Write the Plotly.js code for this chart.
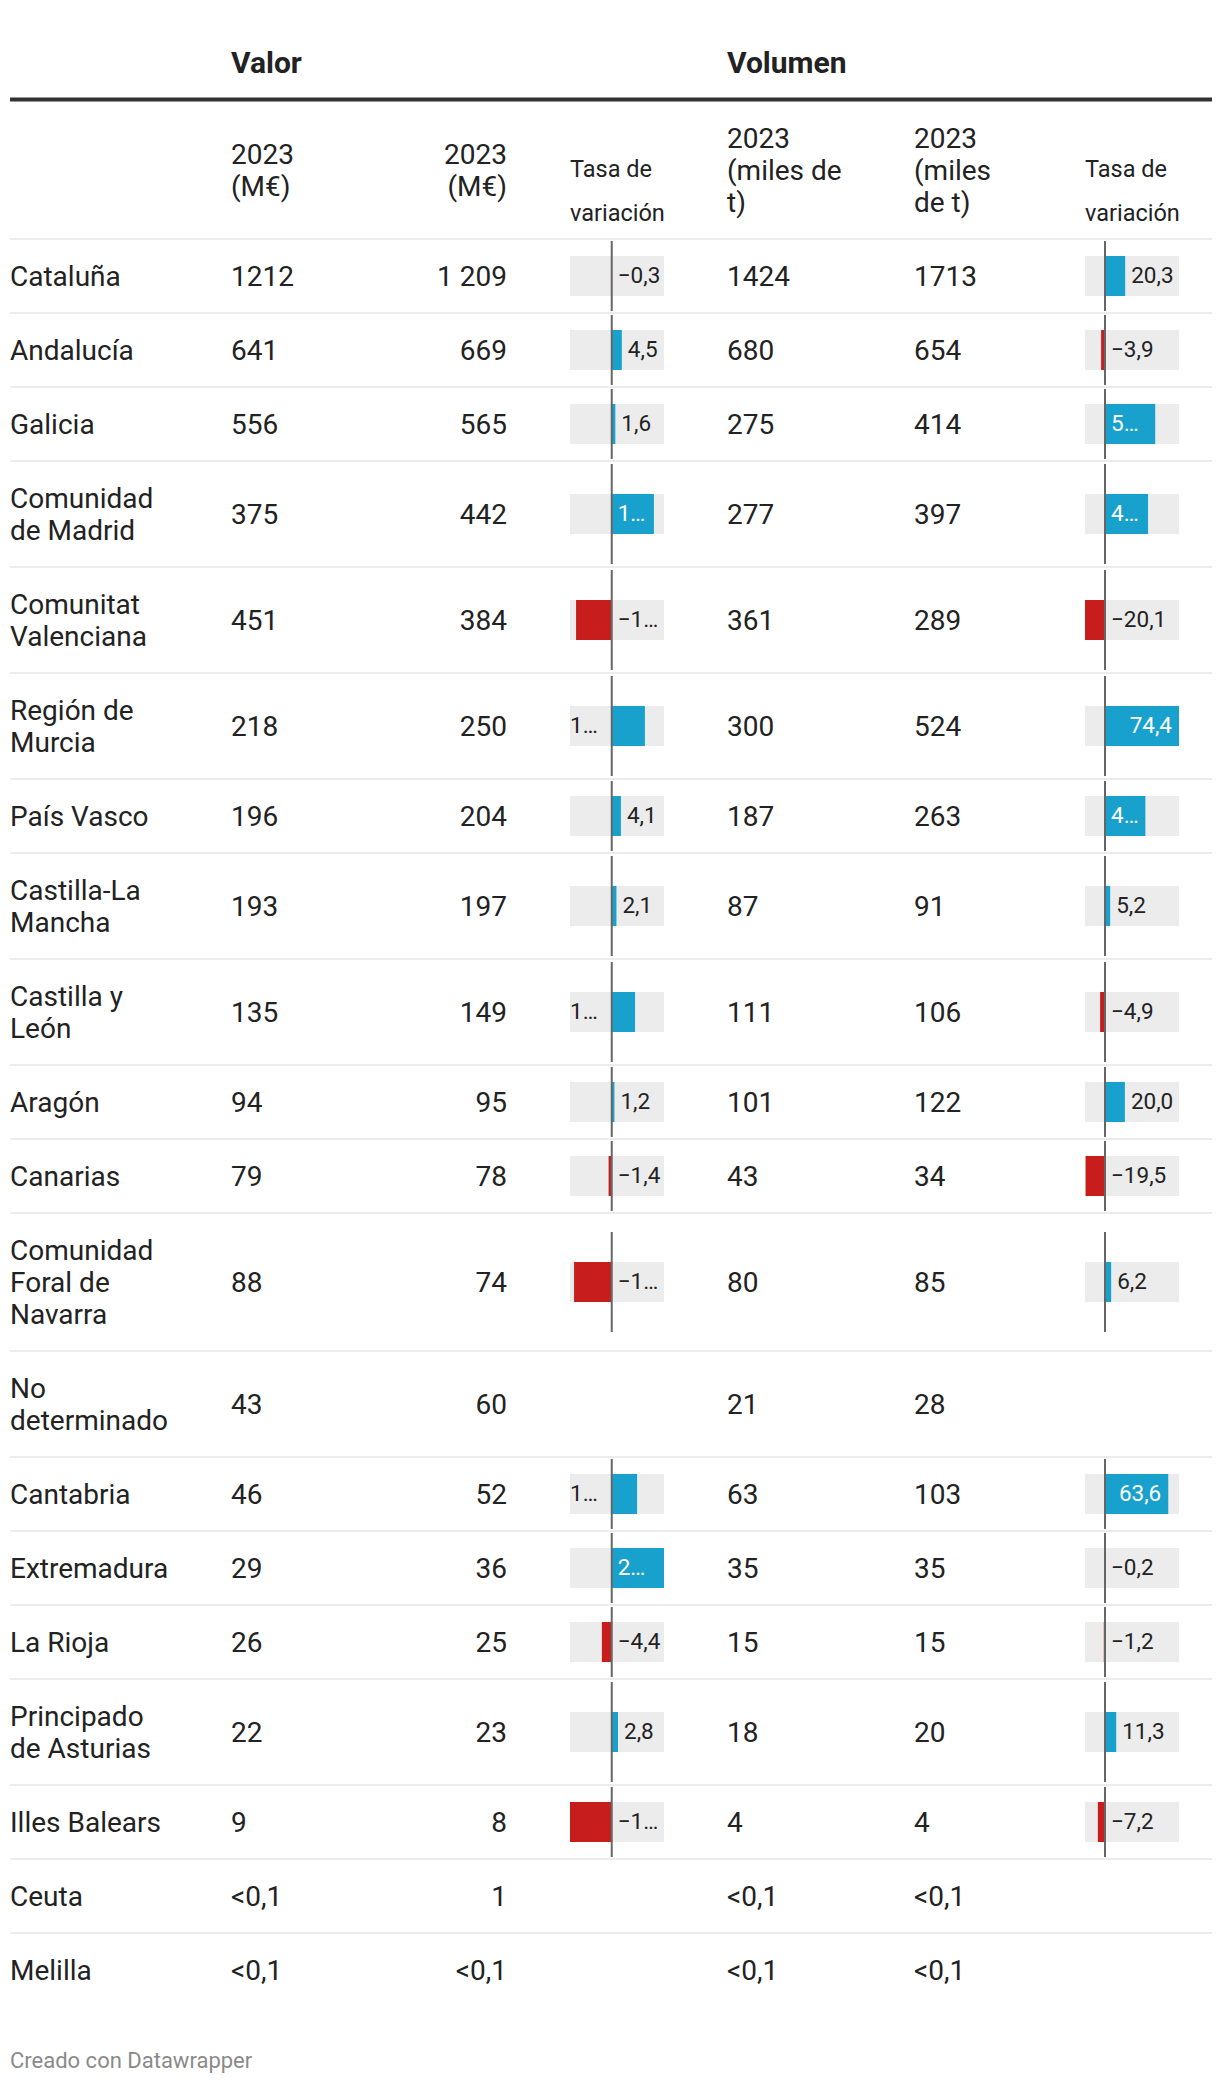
<!DOCTYPE html>
<html>
<head>
<meta charset="utf-8">
<script src="https://cdn.plot.ly/plotly-3.0.1.min.js"></script>
<style>
html,body{margin:0;padding:0;background:#ffffff;}
#chart{width:1220px;height:2082px;}
</style>
</head>
<body>
<div id="chart"></div>
<script>
// ---------------- DATA ----------------
const regions = ["Cataluña","Andalucía","Galicia","Comunidad de Madrid","Comunitat Valenciana","Región de Murcia","País Vasco","Castilla-La Mancha","Castilla y León","Aragón","Canarias","Comunidad Foral de Navarra","No determinado","Cantabria","Extremadura","La Rioja","Principado de Asturias","Illes Balears","Ceuta","Melilla"];
const valor2023a = ["1212","641","556","375","451","218","196","193","135","94","79","88","43","46","29","26","22","9","<0,1","<0,1"];
const valor2023b = ["1 209","669","565","442","384","250","204","197","149","95","78","74","60","52","36","25","23","8","1","<0,1"];
const valorTasa = [-0.3,4.5,1.6,18.8,-15.9,14.8,4.1,2.1,10.4,1.2,-1.4,-16.8,null,11.3,23.3,-4.4,2.8,-18.6,null,null];
const volumen2023a = ["1424","680","275","277","361","300","187","87","111","101","43","80","21","63","35","15","18","4","<0,1","<0,1"];
const volumen2023b = ["1713","654","414","397","289","524","263","91","106","122","34","85","28","103","35","15","20","4","<0,1","<0,1"];
const volumenTasa = [20.3,-3.9,50.5,43.3,-20.1,74.4,40.6,5.2,-4.9,20.0,-19.5,6.2,null,63.6,-0.2,-1.2,11.3,-7.2,null,null];
const groupHeaders = ["Valor","Volumen"];
const colHeaders = ["","2023\n(M€)","2023\n(M€)","Tasa de\nvariación","2023\n(miles de\nt)","2023\n(miles\nde t)","Tasa de\nvariación"];
const footerText = "Creado con Datawrapper";

// ---------------- LAYOUT CONSTANTS ----------------
const W = 1220, H = 2082;
const FONT = "Roboto, sans-serif";
const DARK = "#222222", BLUE = "#18a1cd", RED = "#c71e1d", BG = "#ececec",
      AXISC = "#666666", SEP = "#ececec", RULE = "#333333", FOOT = "#8a8a8a";
const BODY = 28, GROUPSZ = 30, SMALL = 22.5, TASASZ = 23.5, FOOTSZ = 22;
const TABLE_L = 10, TABLE_R = 1212;
const X_LABEL = 10, X_VA = 231, X_VB = 507, X_WA = 727, X_WB = 914;
const VT_PX = [570, 664], WT_PX = [1085, 1179];
const ROW_TOP = 239, ROW_H = 74, LINE_GAP = 32, LABEL_WRAP = 163.8;
const GROUP_Y = 65, RULE_Y = 99.5, HEAD_C = 173, TASA_Y0 = 171.3, TASA_GAP = 44, FOOT_Y = 2062;
const BODY_DY = 2.6, LABEL_DY = 1.8;
const BAR_H = 40, PAD = 6;

// ---------------- HELPERS ----------------
const ctx = document.createElement("canvas").getContext("2d");
function tw(s, size, weight) { ctx.font = (weight || "400") + " " + size + "px Roboto"; return ctx.measureText(s).width; }
function wrapText(s, size, maxW) {
  const words = s.split(" "); const lines = []; let cur = "";
  words.forEach(w => {
    const t = cur ? cur + " " + w : w;
    if (!cur || tw(t, size) <= maxW) cur = t; else { lines.push(cur); cur = w; }
  });
  if (cur) lines.push(cur);
  return lines;
}
function fmt(v) { return (v < 0 ? "\u2212" : "") + Math.abs(v).toFixed(1).replace(".", ","); }
function trunc(s, avail) {
  if (tw(s, SMALL) <= avail) return s;
  const minN = s[0] === "\u2212" ? 2 : 1;
  let n = s.length - 1;
  while (n > minN && tw(s.slice(0, n) + "…", SMALL) > avail) n--;
  return s.slice(0, n) + "…";
}

// rows
const rows = [];
let yc = ROW_TOP;
regions.forEach(r => {
  const lines = wrapText(r, BODY, LABEL_WRAP);
  const h = ROW_H + LINE_GAP * (lines.length - 1);
  rows.push({ top: yc, h: h, c: yc + h / 2, lines: lines });
  yc += h;
});

const traces = [];
const base = { type: "scatter", hoverinfo: "skip", showlegend: false, cliponaxis: false };

// separators
const sx = [], sy = [];
sx.push(TABLE_L, TABLE_R, null); sy.push(ROW_TOP, ROW_TOP, null);
rows.forEach((r, i) => { if (i < rows.length - 1) { sx.push(TABLE_L, TABLE_R, null); sy.push(r.top + r.h, r.top + r.h, null); } });
traces.push(Object.assign({}, base, { mode: "lines", x: sx, y: sy, line: { color: SEP, width: 2 } }));
// thick rule
traces.push(Object.assign({}, base, { mode: "lines", x: [TABLE_L, TABLE_R], y: [RULE_Y, RULE_Y], line: { color: RULE, width: 4 } }));

// body text
const bl = { x: [], y: [], text: [] }, br = { x: [], y: [], text: [] };
rows.forEach((r, i) => {
  const yc2 = r.c + BODY_DY;
  r.lines.forEach((ln, j) => { bl.x.push(X_LABEL); bl.y.push(yc2 + (j - (r.lines.length - 1) / 2) * LINE_GAP); bl.text.push(ln); });
  bl.x.push(X_VA); bl.y.push(yc2); bl.text.push(valor2023a[i]);
  bl.x.push(X_WA); bl.y.push(yc2); bl.text.push(volumen2023a[i]);
  bl.x.push(X_WB); bl.y.push(yc2); bl.text.push(volumen2023b[i]);
  br.x.push(X_VB); br.y.push(yc2); br.text.push(valor2023b[i]);
});
traces.push(Object.assign({}, base, { mode: "text", x: bl.x, y: bl.y, text: bl.text, textposition: "middle right", textfont: { family: FONT, size: BODY, color: DARK } }));
traces.push(Object.assign({}, base, { mode: "text", x: br.x, y: br.y, text: br.text, textposition: "middle left", textfont: { family: FONT, size: BODY, color: DARK } }));

// group headers
traces.push(Object.assign({}, base, { mode: "text", x: [X_VA, X_WA], y: [GROUP_Y, GROUP_Y], text: groupHeaders, textposition: "middle right", textfont: { family: FONT, size: GROUPSZ, color: DARK, weight: 700 } }));

// column headers
const colX = [X_LABEL, X_VA, X_VB, VT_PX[0], X_WA, X_WB, WT_PX[0]];
const hl = { x: [], y: [], text: [] }, hr = { x: [], y: [], text: [] }, ht = { x: [], y: [], text: [] };
colHeaders.forEach((hd, ci) => {
  if (!hd) return;
  const lines = hd.split("\n");
  lines.forEach((ln, j) => {
    if (ci === 3 || ci === 6) { ht.x.push(colX[ci]); ht.y.push(TASA_Y0 + j * TASA_GAP); ht.text.push(ln); }
    else if (ci === 2) { hr.x.push(colX[ci]); hr.y.push(HEAD_C + (j - (lines.length - 1) / 2) * LINE_GAP); hr.text.push(ln); }
    else { hl.x.push(colX[ci]); hl.y.push(HEAD_C + (j - (lines.length - 1) / 2) * LINE_GAP); hl.text.push(ln); }
  });
});
traces.push(Object.assign({}, base, { mode: "text", x: hl.x, y: hl.y, text: hl.text, textposition: "middle right", textfont: { family: FONT, size: BODY, color: DARK } }));
traces.push(Object.assign({}, base, { mode: "text", x: hr.x, y: hr.y, text: hr.text, textposition: "middle left", textfont: { family: FONT, size: BODY, color: DARK } }));
traces.push(Object.assign({}, base, { mode: "text", x: ht.x, y: ht.y, text: ht.text, textposition: "middle right", textfont: { family: FONT, size: TASASZ, color: DARK } }));

// footer
traces.push(Object.assign({}, base, { mode: "text", x: [X_LABEL], y: [FOOT_Y], text: [footerText], textposition: "middle right", textfont: { family: FONT, size: FOOTSZ, color: FOOT } }));

// bar columns
function barColumn(vals, axis, px) {
  const fin = vals.filter(v => v != null);
  const min = Math.min.apply(null, fin), max = Math.max.apply(null, fin);
  const k = (px[1] - px[0]) / (max - min);
  const by = [], bx = [], bcol = [], zx = [], zy = [];
  const lx = [], ly = [], lt = [], lp = [], lc = [];
  vals.forEach((v, i) => {
    if (v == null) return;
    const r = rows[i];
    by.push(r.c); bx.push(v); bcol.push(v < 0 ? RED : BLUE);
    const half = Math.min(r.h / 2 - 2, 50);
    zx.push(0, 0, null); zy.push(r.c - half, r.c + half, null);
    const s = fmt(v), w = tw(s, SMALL);
    let x, pos, col = DARK, txt = s;
    if (v < 0) { txt = trunc(s, max * k - PAD); x = PAD / k; pos = "middle right"; }
    else {
      const right = (max - v) * k, inside = v * k, left = -min * k;
      if (right >= w + PAD + 2) { x = v + PAD / k; pos = "middle right"; }
      else if (inside >= left) {
        col = "#ffffff";
        if (w <= inside - 16) { x = v - (PAD + 1) / k; pos = "middle left"; }
        else { txt = trunc(s, inside - 16); x = PAD / k; pos = "middle right"; }
      } else { txt = trunc(s, left - 14); x = min; pos = "middle right"; }
    }
    lx.push(x); ly.push(r.c + LABEL_DY); lt.push(txt); lp.push(pos); lc.push(col);
  });
  const ax = { xaxis: axis, yaxis: "y" };
  const out = [];
  out.push(Object.assign({ type: "bar", orientation: "h", y: by, x: by.map(() => max - min), base: min, width: BAR_H, marker: { color: BG, line: { width: 0 } }, hoverinfo: "skip", showlegend: false }, ax));
  out.push(Object.assign({ type: "bar", orientation: "h", y: by, x: bx, base: 0, width: BAR_H, marker: { color: bcol, line: { width: 0 } }, hoverinfo: "skip", showlegend: false }, ax));
  out.push(Object.assign({}, base, ax, { mode: "lines", x: zx, y: zy, line: { color: AXISC, width: 2 } }));
  out.push(Object.assign({}, base, ax, { mode: "text", x: lx, y: ly, text: lt, textposition: lp, textfont: { family: FONT, size: SMALL, color: lc } }));
  return { traces: out, axisLayout: { domain: [px[0] / W, px[1] / W], range: [min, max], visible: false, anchor: "y", fixedrange: true, showgrid: false, zeroline: false } };
}
const colV = barColumn(valorTasa, "x2", VT_PX);
const colW = barColumn(volumenTasa, "x3", WT_PX);
colV.traces.forEach(t => traces.push(t));
colW.traces.forEach(t => traces.push(t));

const layout = {
  width: W, height: H,
  margin: { l: 0, r: 0, t: 0, b: 0, pad: 0 },
  paper_bgcolor: "#ffffff", plot_bgcolor: "rgba(0,0,0,0)",
  showlegend: false, hovermode: false, barmode: "overlay",
  font: { family: FONT, color: DARK },
  xaxis: { domain: [0, 1], range: [0, W], visible: false, fixedrange: true, showgrid: false, zeroline: false },
  yaxis: { domain: [0, 1], range: [H, 0], visible: false, fixedrange: true, showgrid: false, zeroline: false },
  xaxis2: colV.axisLayout,
  xaxis3: colW.axisLayout
};
Plotly.newPlot("chart", traces, layout, { staticPlot: true, displayModeBar: false, responsive: false });
</script>
</body>
</html>
